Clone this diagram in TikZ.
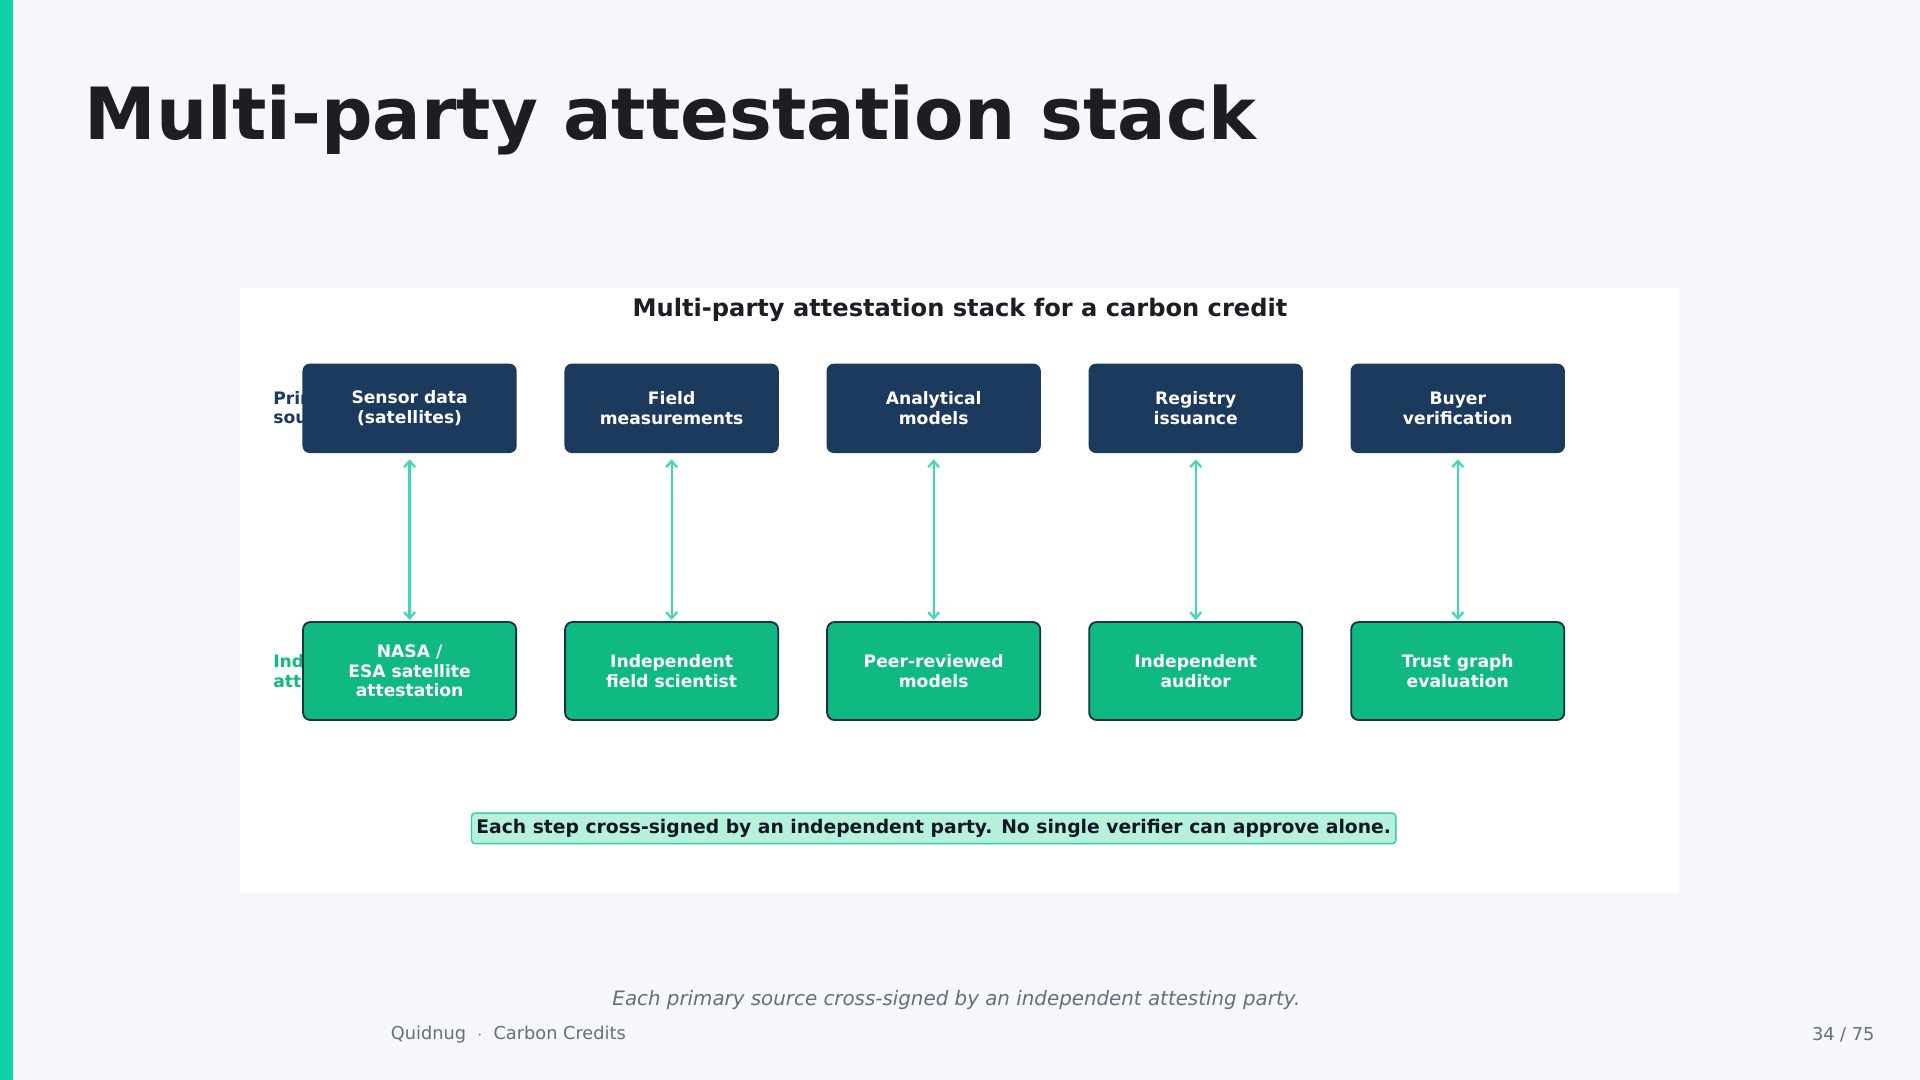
\documentclass[tikz,border=0pt]{standalone}
\usepackage{fontspec}
\setmainfont{DejaVu Sans}
\usetikzlibrary{arrows.meta}
\definecolor{bg}{RGB}{246,247,250}
\definecolor{navy}{RGB}{27,58,94}
\definecolor{grn}{RGB}{16,185,129}
\definecolor{gbord}{RGB}{22,50,70}
\definecolor{arr}{RGB}{61,217,180}
\definecolor{bar}{RGB}{15,211,165}
\definecolor{ink}{RGB}{28,30,36}
\definecolor{nbord}{RGB}{47,208,165}
\definecolor{nfill}{RGB}{184,240,222}
\definecolor{ntext}{RGB}{15,25,35}
\definecolor{grey}{RGB}{100,110,125}
\begin{document}
\begin{tikzpicture}[x=1pt,y=-1pt,
 top/.style={draw=none,fill=navy,rounded corners=6pt,minimum width=175pt,minimum height=73pt,text=white,font=\fontsize{14}{16}\selectfont\bfseries,align=center,inner sep=0pt},
 bot/.style={draw=gbord,line width=1.5pt,fill=grn,rounded corners=6pt,minimum width=174pt,minimum height=80pt,text=white,font=\fontsize{14}{16}\selectfont\bfseries,align=center,inner sep=0pt},
 conn/.style={draw=arr,line width=1.8pt,{Straight Barb[length=5pt,width=9pt]}-{Straight Barb[length=5pt,width=9pt]},shorten <=5pt,shorten >=1pt}]
\fill[bg] (0,0) rectangle (1568,882);
\useasboundingbox (0,0) rectangle (1568,882);
\fill[bar] (0,0) rectangle (11,882);
\node[anchor=west,font=\fontsize{58.8}{66}\selectfont\bfseries,text=ink,inner sep=0pt] (title) at (69,98) {Multi-party attestation stack};
\fill[white] (196,235) rectangle (1371,729);
\node[font=\fontsize{19.7}{22}\selectfont\bfseries,text=ink] (ct) at (784,253) {Multi-party attestation stack for a carbon credit};
\node[anchor=west,align=left,font=\fontsize{14}{16}\selectfont\bfseries,text=navy,inner sep=0pt] (lp) at (223,333) {Primary\\sources};
\node[anchor=west,align=left,font=\fontsize{14}{16}\selectfont\bfseries,text=grn,inner sep=0pt] (la) at (223,548) {Independent\\attestation};
\foreach \i/\x/\a/\b in {1/334.5/{Sensor data\\(satellites)}/{NASA /\\ESA satellite\\attestation},2/548.5/{Field\\measurements}/{Independent\\field scientist},3/762.5/{Analytical\\models}/{Peer-reviewed\\models},4/976.5/{Registry\\issuance}/{Independent\\auditor},5/1190.5/{Buyer\\verification}/{Trust graph\\evaluation}}{
 \node[top] (t\i) at (\x,333.5) {\a};
 \node[bot] (b\i) at (\x,548) {\b};
 \draw[conn] (t\i) -- (b\i);
}
\node[draw=nbord,fill=nfill,line width=1.2pt,rounded corners=3pt,font=\fontsize{15.3}{17}\selectfont\bfseries,text=ntext,inner sep=4pt,minimum height=25pt] (note) at (762.5,676.5) {Each step cross-signed by an independent party. No single verifier can approve alone.};
\node[font=\fontsize{16.2}{18}\selectfont\itshape,text=grey] (cap) at (781,817) {Each primary source cross-signed by an independent attesting party.};
\node[anchor=west,font=\fontsize{14.5}{16}\selectfont,text=grey,inner sep=0pt] (ft) at (319,845) {Quidnug \ $\cdot$ \ Carbon Credits};
\node[anchor=east,font=\fontsize{14.5}{16}\selectfont,text=grey,inner sep=0pt] (pg) at (1531,845) {34 / 75};
\end{tikzpicture}
\end{document}
